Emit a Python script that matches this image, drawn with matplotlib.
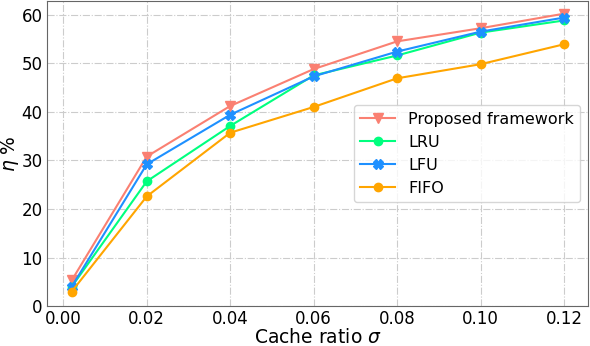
import matplotlib
matplotlib.use("Agg")
import matplotlib.pyplot as plt

x = [0.002, 0.02, 0.04, 0.06, 0.08, 0.10, 0.12]
proposed = [5.3, 30.8, 41.2, 48.8, 54.5, 57.2, 60.2]
lru = [4.0, 25.7, 37.1, 47.5, 51.6, 56.3, 58.8]
lfu = [4.0, 29.2, 39.4, 47.3, 52.4, 56.5, 59.4]
fifo = [3.0, 22.6, 35.7, 41.0, 46.9, 49.8, 53.9]

fig = plt.figure(figsize=(5.9, 3.46), dpi=100)
ax = fig.add_axes([0.079, 0.115, 0.918, 0.882])
ax.plot(x, proposed, color="salmon", marker="v", markersize=7, label="Proposed framework")
ax.plot(x, lru, color="springgreen", marker="o", markersize=6, label="LRU")
ax.plot(x, lfu, color="dodgerblue", marker="X", markersize=7, label="LFU")
ax.plot(x, fifo, color="orange", marker="o", markersize=6, label="FIFO")

ax.set_xlim(-0.004, 0.1258)
ax.set_ylim(0, 62.8)
ax.set_xticks([0.0, 0.02, 0.04, 0.06, 0.08, 0.10, 0.12])
ax.set_xticklabels(["0.00", "0.02", "0.04", "0.06", "0.08", "0.10", "0.12"])
ax.set_yticks([0, 10, 20, 30, 40, 50, 60])
ax.tick_params(labelsize=12, length=0, pad=3)
for s in ax.spines.values():
    s.set_color("#666666")
ax.set_xlabel(r"Cache ratio $\sigma$", fontsize=13.5, labelpad=0)
ax.set_ylabel(r"$\eta$ %", fontsize=13.5, labelpad=0)
ax.grid(True, linestyle="-.", color="#cccccc", linewidth=0.8)
ax.legend(fontsize=11.5, loc="center right", bbox_to_anchor=(1.0, 0.5), handlelength=2.2)

fig.savefig("out.png")
